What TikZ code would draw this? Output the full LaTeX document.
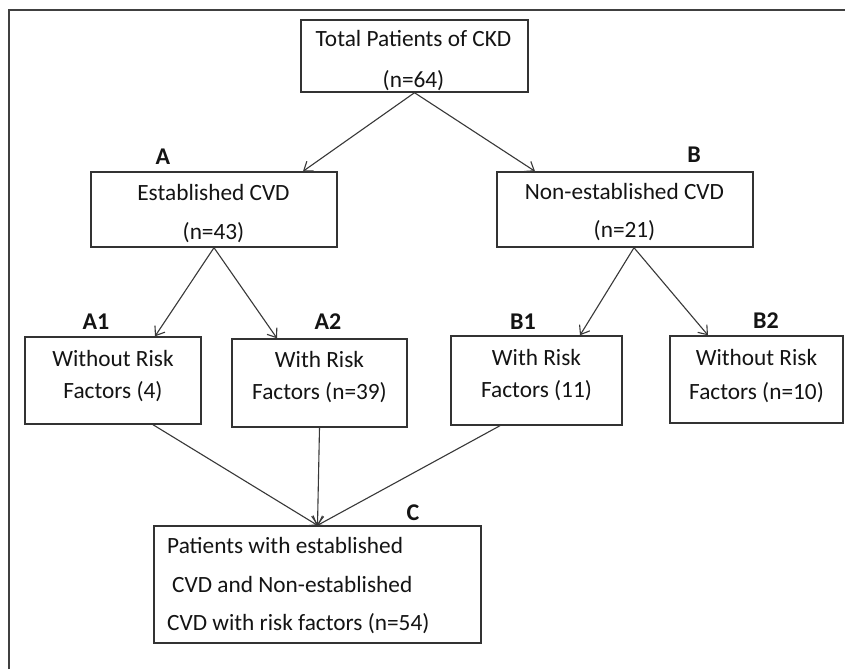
\documentclass[tikz,border=0pt]{standalone}
\usepackage{fontspec}
\setmainfont{Carlito}
\usetikzlibrary{arrows.meta}
\begin{document}
\begin{tikzpicture}[x=1pt,y=-1pt,
  box/.style={draw=black!80, line width=1.4pt, inner sep=0pt, fill=none},
  txt/.style={anchor=base, font=\fontsize{23.3}{27}\selectfont, text=black!92, inner sep=0pt},
  lab/.style={anchor=center, font=\fontsize{24}{28}\selectfont\bfseries, text=black!92, inner sep=0pt},
  arr/.style={draw=black!78, line width=1.1pt, -{Straight Barb[length=8pt,width=12pt]}}]
\useasboundingbox (0,0) rectangle (845,669);
\fill[white] (0,0) rectangle (845,669);
% frame
\draw[line width=2pt, draw=black!75] (9,669) -- (9,10) -- (845,10);
% boxes
\node[box, minimum width=227pt, minimum height=72pt] (top) at (414.5,56) {};
\node[box, minimum width=246pt, minimum height=75pt] (A) at (214,209.5) {};
\node[box, minimum width=256pt, minimum height=75pt] (B) at (625,209.5) {};
\node[box, minimum width=176pt, minimum height=87pt] (A1) at (113,380.5) {};
\node[box, minimum width=175pt, minimum height=88pt] (A2) at (319.5,383) {};
\node[box, minimum width=171pt, minimum height=89pt] (B1) at (536.5,380.5) {};
\node[box, minimum width=173pt, minimum height=87pt] (B2) at (756.5,379.5) {};
\node[box, minimum width=327pt, minimum height=117pt] (C) at (317.5,584.5) {};
% texts
\node[txt] (t1) at (413.5,47) {Total Patients of CKD};
\node[txt] (t2) at (413.5,87) {(n=64)};
\node[txt] (a1) at (213.5,200) {Established CVD};
\node[txt] (a2) at (213.5,239) {(n=43)};
\node[txt] (b1) at (624.5,199) {Non-established CVD};
\node[txt] (b2) at (624.5,237) {(n=21)};
\node[txt] (aa1) at (113,366) {Without Risk};
\node[txt] (aa2) at (113,398) {Factors (4)};
\node[txt] (ab1) at (319.5,367) {With Risk};
\node[txt] (ab2) at (319.5,399) {Factors (n=39)};
\node[txt] (ba1) at (536.5,365) {With Risk};
\node[txt] (ba2) at (536.5,397) {Factors (11)};
\node[txt] (bb1) at (756.5,365) {Without Risk};
\node[txt] (bb2) at (756.5,399) {Factors (n=10)};
\node[txt, anchor=base west] (c1) at (167,553) {Patients with established};
\node[txt, anchor=base west] (c2) at (172,592) {CVD and Non-established};
\node[txt, anchor=base west] (c3) at (167,630) {CVD with risk factors (n=54)};
% labels
\node[lab] (LA) at (163,157) {A};
\node[lab] (LB) at (694,155) {B};
\node[lab] (LA1) at (96,322) {A1};
\node[lab] (LA2) at (328,322) {A2};
\node[lab] (LB1) at (523,322) {B1};
\node[lab] (LB2) at (766,321) {B2};
\node[lab] (LC) at (413,513) {C};
% arrows
\draw[arr] (top.south) -- ([xshift=89pt]A.north);
\draw[arr] (top.south) -- ([xshift=-90pt]B.north);
\draw[arr] (A.south) -- ([xshift=42pt]A1.north);
\draw[arr] (A.south) -- ([xshift=-42.5pt]A2.north);
\draw[arr] ([xshift=9pt]B.south) -- ([xshift=43.5pt]B1.north);
\draw[arr] ([xshift=9pt]B.south) -- ([xshift=-48.5pt]B2.north);
\draw[arr] ([xshift=40pt]A1.south) -- (C.north);
\draw[arr] (A2.south) -- (C.north);
\draw[arr] ([xshift=-36.5pt]B1.south) -- (C.north);
\end{tikzpicture}
\end{document}
